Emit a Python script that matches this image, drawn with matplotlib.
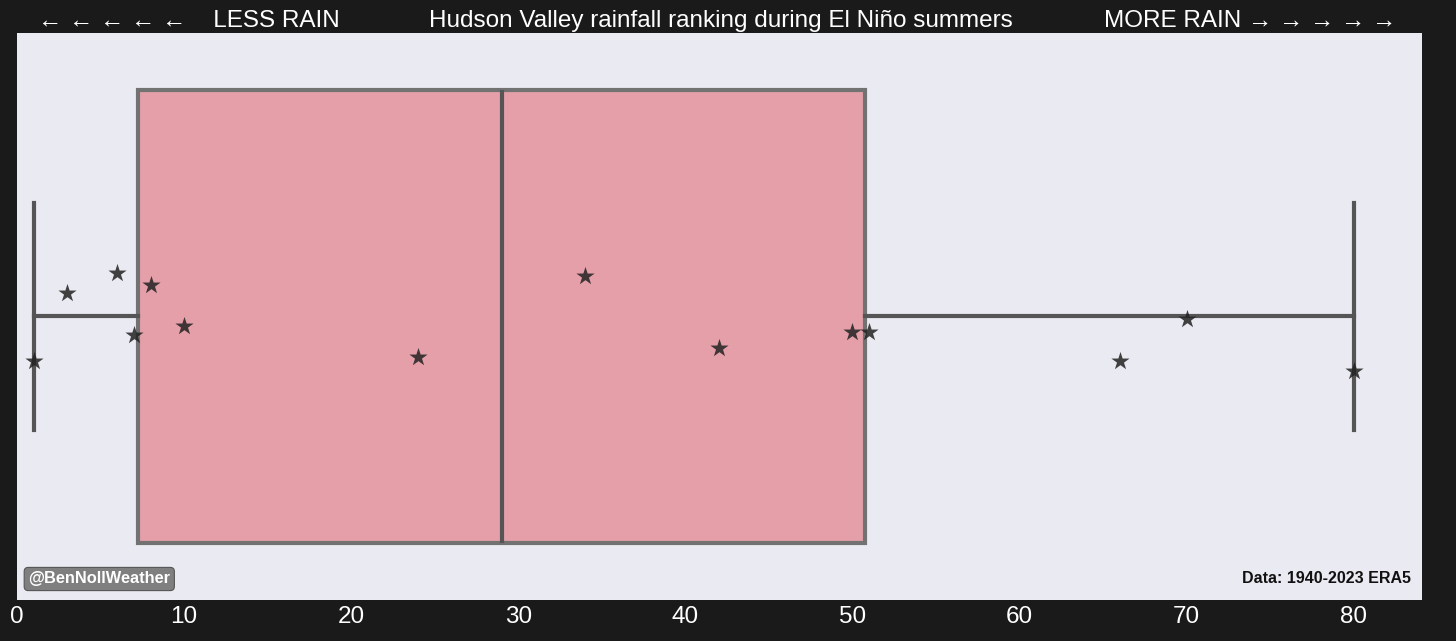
"""
Hudson Valley rainfall ranking during El Nino summers: box + star strip.
Writes out.png.
"""
import matplotlib
matplotlib.use("Agg")
import matplotlib.pyplot as plt

# rainfall rank of each El Nino summer (1 = driest, 84 = wettest)
ranks = [1, 3, 6, 7, 8, 10, 24, 34, 42, 50, 51, 66, 70, 80]
# vertical jitter of each star
jitter = [0.078, -0.041, -0.076, 0.032, -0.056, 0.016, 0.072,
          -0.072, 0.055, 0.028, 0.028, 0.079, 0.004, 0.097]
xticks = [0, 10, 20, 30, 40, 50, 60, 70, 80]

BG = "#1a1a1a"
FONT = ["Liberation Sans", "DejaVu Sans"]
plt.rcParams["font.family"] = FONT

fig = plt.figure(figsize=(14.56, 6.41), dpi=100, facecolor=BG)
ax = fig.add_axes([0.0117, 0.064, 0.965, 0.8845])
ax.set_facecolor("#eaeaf2")
for s in ax.spines.values():
    s.set_visible(False)

bp = ax.boxplot([ranks], positions=[0], vert=False, widths=0.8,
                whis=1.5, patch_artist=True, showfliers=False,
                medianprops=dict(color="#555555", linewidth=3),
                whiskerprops=dict(color="#555555", linewidth=3),
                capprops=dict(color="#555555", linewidth=3),
                boxprops=dict(facecolor="#e59fa9", edgecolor="#727272",
                              linewidth=3))
for cap in bp["caps"]:
    cap.set_ydata([-0.2, 0.2])

ax.scatter(ranks, jitter, marker="*", s=190, color="#222222",
           alpha=0.85, linewidths=0, zorder=5)

ax.set_xlim(0, 84.1)
ax.set_ylim(0.5, -0.5)
ax.set_yticks([])
ax.set_xticks(xticks)
ax.tick_params(axis="x", colors="white", labelsize=17.5, length=0, pad=4)
ax.grid(False)

fig.text(38 / 1456, 0.968, "← ← ← ← ←    LESS RAIN", color="white",
         fontsize=17.5, ha="left", va="center")
fig.text(0.495, 0.968, "Hudson Valley rainfall ranking during El Niño summers",
         color="white", fontsize=17.5, ha="center", va="center")
fig.text(1396 / 1456, 0.968, "MORE RAIN → → → → →", color="white",
         fontsize=17.5, ha="right", va="center")

ax.text(0.008, 0.037, "@BenNollWeather", transform=ax.transAxes,
        color="white", fontsize=11.8, fontweight="bold", ha="left", va="center",
        bbox=dict(boxstyle="round,pad=0.25", facecolor="#7f7f7f",
                  edgecolor="#555555", linewidth=0.8))
ax.text(0.992, 0.037, "Data: 1940-2023 ERA5", transform=ax.transAxes,
        color="#111111", fontsize=11.5, fontweight="bold", ha="right",
        va="center")

fig.savefig("out.png", facecolor=BG)
